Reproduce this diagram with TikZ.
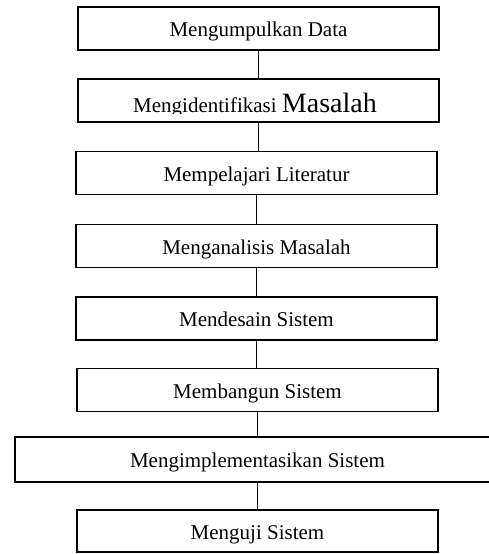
\documentclass[tikz,border=0pt]{standalone}
\usepackage{fontspec}
\setmainfont{Liberation Serif}
\begin{document}
\begin{tikzpicture}[x=1bp, y=-1bp, line width=1.4bp,
  stepbox/.style={draw, rectangle, inner sep=0pt, minimum width=361bp, minimum height=43bp,
    text height=16.6bp, text depth=0pt, font=\fontsize{21bp}{24bp}\selectfont},
  link/.style={draw, line width=1.4bp}]
\useasboundingbox (0,0) rectangle (489,554);
\clip (0,0) rectangle (489,554);

% process steps, top to bottom
\node[stepbox] (n1) at (258.5,28.5) {Mengumpulkan Data};
\node[stepbox] (n2) at (258.5,100.5) {};
\node[stepbox] (n3) at (256.5,173) {Mempelajari Literatur};
\node[stepbox] (n4) at (256.5,246) {Menganalisis Masalah};
\node[stepbox] (n5) at (256.5,318.5) {Mendesain Sistem};
\node[stepbox] (n6) at (257.5,390) {Membangun Sistem};
\node[stepbox, minimum width=480bp, minimum height=45bp] (n7) at (255,459.5) {};
\node[font=\fontsize{21bp}{24bp}\selectfont, anchor=base] (t7) at (257.5,467.7) {Mengimplementasikan Sistem};
\node[stepbox, minimum height=42bp] (n8) at (257.5,531) {Menguji Sistem};

% label of the second step, cut off just below its baseline
\begin{scope}
  \clip (79,80) rectangle (438,113.6);
  \node[anchor=base, inner sep=0pt] (t2) at (255,112.7)
    {\fontsize{21bp}{24bp}\selectfont Mengidentifikasi {\fontsize{28bp}{30bp}\selectfont Masalah}};
\end{scope}

% connectors
\draw[link] (n1.south) -- (n2.north);
\draw[link] (n2.south) -- (n2.south |- n3.north);
\draw[link] (n3.south) -- (n4.north);
\draw[link] (n4.south) -- (n5.north);
\draw[link] (n5.south) -- (n5.south |- n6.north);
\draw[link] (n6.south) -- (n6.south |- n7.north);
\draw[link] (n6.south |- n7.south) -- (n6.south |- n8.north);
\end{tikzpicture}
\end{document}
